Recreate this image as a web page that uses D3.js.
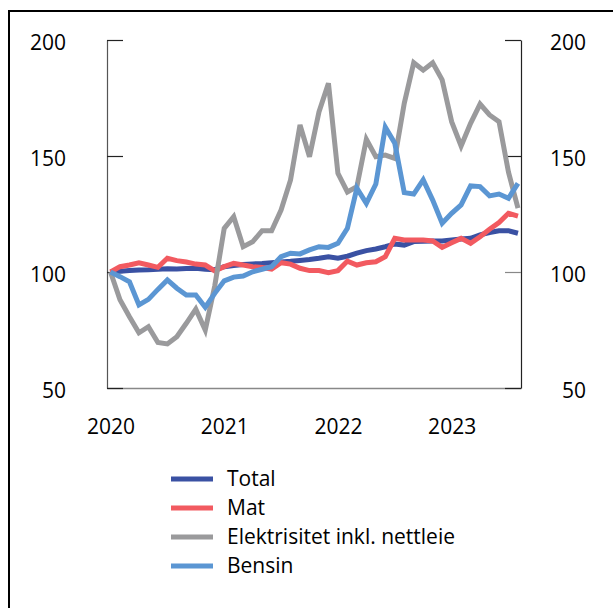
<!DOCTYPE html>
<html>
<head>
<meta charset="utf-8">
<script src="https://cdn.jsdelivr.net/npm/d3@7"></script>
<style>
  html, body { margin: 0; padding: 0; background: #fff; }
  svg { display: block; font-family: "Open Sans", "Noto Sans", sans-serif; }
</style>
</head>
<body>
<svg id="chart" width="613" height="608"></svg>
<script>
// Monthly index, Jan 2020 (0) to Aug 2023 (43)
const yearLabels = ["2020", "2021", "2022", "2023"];
const yearTickIndex = [0, 12, 24, 36];
const yTicks = [50, 100, 150, 200];

const seriesNames = ["Total", "Mat", "Elektrisitet inkl. nettleie", "Bensin"];
const seriesColors = ["#3a51a3", "#f25a60", "#9a9a9c", "#5b96d3"];

const total = [100, 100.3, 100.6, 100.9, 101.0, 101.2, 101.4, 101.3, 101.5, 101.6, 101.2, 101.0,
  102.3, 102.8, 103.2, 103.5, 103.7, 104.0, 104.3, 104.6, 105.0, 105.4, 105.9, 106.6,
  105.9, 106.8, 108.1, 109.2, 109.9, 110.9, 112.1, 111.6, 113.1, 113.2, 113.4, 113.4,
  113.8, 114.2, 114.5, 116.0, 117.0, 117.8, 117.8, 116.7];
const mat = [100, 102.3, 103.0, 104.0, 103.0, 102.0, 105.9, 104.9, 104.3, 103.4, 103.0, 100.5,
  102.3, 103.7, 103.0, 102.3, 101.9, 101.2, 104.0, 103.4, 101.6, 100.6, 100.6, 99.7,
  100.6, 104.7, 103.0, 104.0, 104.4, 106.6, 114.5, 113.8, 113.8, 113.8, 113.4, 110.6,
  112.6, 114.5, 112.4, 115.2, 118.4, 121.3, 125.3, 124.1];
const elektrisitet = [100, 88, 80.7, 73.8, 76.4, 69.6, 69.0, 72.1, 77.9, 84.0, 75.0, 94.0,
  118.8, 123.8, 110.9, 113.0, 117.8, 117.8, 126.7, 139.7, 163.4, 149.7, 169.0, 181.3,
  142.5, 134.5, 136.8, 157.2, 149.7, 150.4, 149.0, 172.7, 190.2, 187.0, 190.2, 182.8,
  164.8, 154.3, 164.1, 172.4, 167.7, 164.8, 143.0, 127.5];
const bensin = [100, 98.0, 95.8, 85.8, 88.2, 92.5, 96.6, 93.0, 90.1, 90.1, 84.8, 90.8,
  96.2, 97.8, 98.3, 100.1, 101.2, 102.3, 106.6, 108.1, 107.8, 109.5, 110.9, 110.6,
  112.4, 118.8, 136.1, 129.6, 137.9, 162.4, 155.5, 134.2, 133.6, 139.7, 131.0, 121.0,
  125.3, 128.9, 137.1, 136.8, 132.8, 133.6, 131.8, 138.2];
const seriesValues = [total, mat, elektrisitet, bensin];

const FS = 21;
const svg = d3.select("#chart");

// outer frame
svg.append("rect").attr("x", 9).attr("y", 11).attr("width", 700).attr("height", 700)
  .attr("fill", "none").attr("stroke", "#000").attr("stroke-width", 2);

const x = d3.scaleLinear().domain([-0.37, 43.32]).range([107, 521]);
const y = d3.scaleLinear().domain([50, 200]).range([388, 40]);

// bottom axis
const gx = svg.append("g").attr("transform", "translate(0,388)")
  .call(d3.axisBottom(x).tickValues(yearTickIndex).tickFormat((d, i) => yearLabels[i])
    .tickSizeInner(0).tickSizeOuter(0).tickPadding(31));
gx.select(".domain").attr("stroke", "#888").attr("stroke-width", 1.5);
gx.selectAll("text").attr("font-size", FS).attr("fill", "#000")
  .attr("font-family", "'Open Sans', sans-serif");

// left axis
const gl = svg.append("g").attr("transform", "translate(107,0)")
  .call(d3.axisLeft(y).tickValues(yTicks).tickSizeInner(-16).tickSizeOuter(0).tickPadding(41));
gl.select(".domain").attr("stroke", "#555").attr("stroke-width", 1.2);
gl.selectAll(".tick line").attr("stroke", "#222").attr("stroke-width", 1.2);
gl.selectAll("text").attr("font-size", FS).attr("fill", "#000").attr("dy", "0.45em")
  .attr("font-family", "'Open Sans', sans-serif");

// right axis
const gr = svg.append("g").attr("transform", "translate(521,0)")
  .call(d3.axisRight(y).tickValues(yTicks).tickSizeInner(-16).tickSizeOuter(0).tickPadding(0));
gr.select(".domain").attr("stroke", "#222").attr("stroke-width", 1.2);
gr.selectAll(".tick line").attr("stroke", d => d === 100 ? "#888" : "#222").attr("stroke-width", 1.2);
gr.selectAll("text").attr("font-size", FS).attr("fill", "#000").attr("text-anchor", "end")
  .attr("x", 65).attr("dy", "0.45em").attr("font-family", "'Open Sans', sans-serif");

// lines
const line = d3.line().x((d, i) => x(i)).y(d => y(d));
seriesValues.forEach((vals, k) => {
  svg.append("path").datum(vals).attr("d", line)
    .attr("fill", "none").attr("stroke", seriesColors[k]).attr("stroke-width", 5)
    .attr("stroke-linejoin", "miter").attr("stroke-miterlimit", 4);
});

// legend
const legend = svg.append("g");
seriesNames.forEach((name, k) => {
  const ly = 479 + k * 29;
  legend.append("line").attr("x1", 171).attr("x2", 213).attr("y1", ly).attr("y2", ly)
    .attr("stroke", seriesColors[k]).attr("stroke-width", 5);
  legend.append("text").attr("x", 227).attr("y", ly).attr("dy", "0.35em")
    .attr("font-size", FS).attr("fill", "#000").text(name);
});
</script>
</body>
</html>
